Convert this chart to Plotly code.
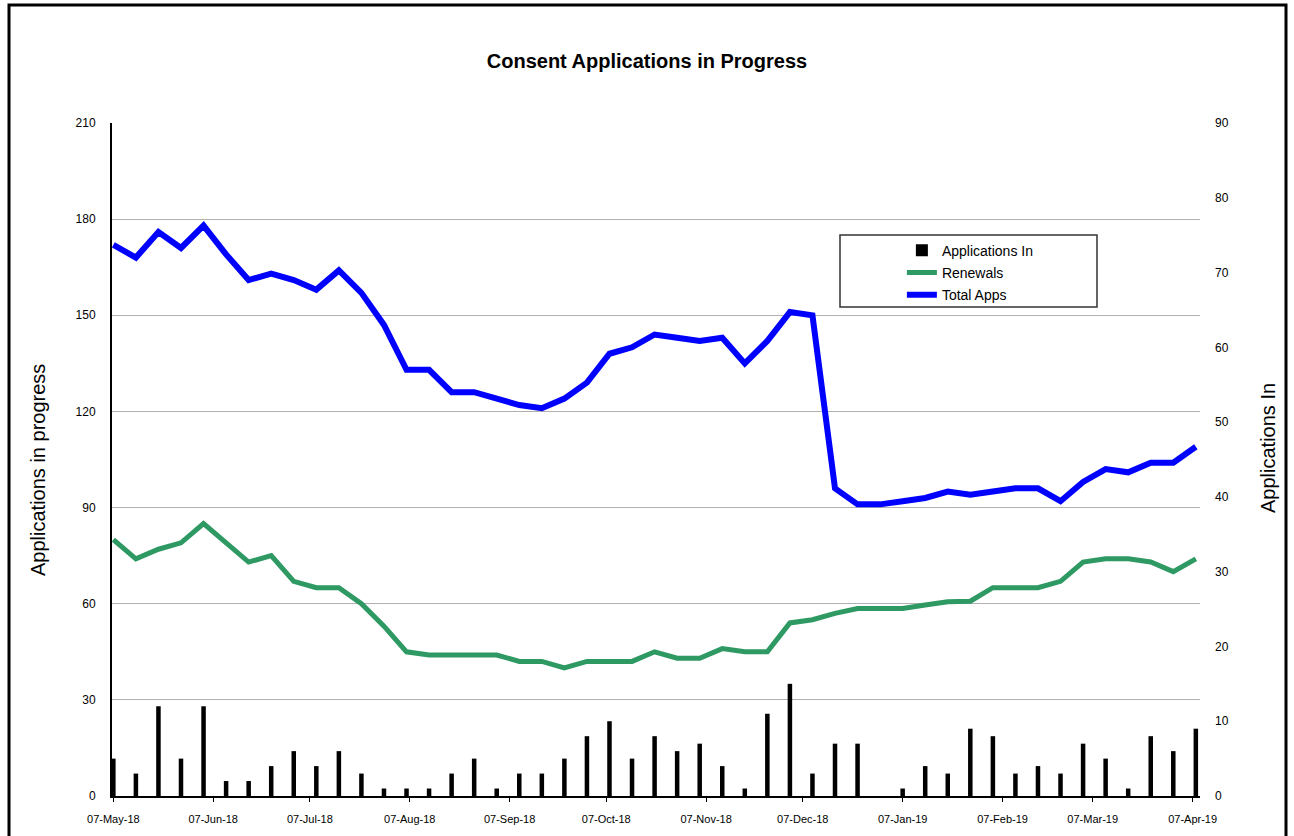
import pandas as pd
import plotly.graph_objects as go

# ---- data ----
week_start = "2018-05-07"
n_weeks = 49
weeks = pd.date_range(week_start, periods=n_weeks, freq="7D")

applications_in = [5, 3, 12, 5, 12, 2, 2, 4, 6, 4, 6, 3, 1, 1, 1, 3, 5, 1, 3, 3, 5, 8, 10, 5,
                   8, 6, 7, 4, 1, 11, 15, 3, 7, 7, 0, 1, 4, 3, 9, 8, 3, 4, 3, 7, 5, 1, 8, 6, 9]
renewals = [80, 74, 77, 79, 85, 79, 73, 75, 67, 65, 65, 60, 53, 45, 44, 44, 44, 44, 42, 42, 40, 42, 42, 42,
            45, 43, 43, 46, 45, 45, 54, 55, 57, 58.5, 58.5, 58.5, 59.6, 60.6, 60.8, 65, 65, 65, 67, 73, 74, 74, 73, 70, 74]
total_apps = [172, 168, 176, 171, 178, 169, 161, 163, 161, 158, 164, 157, 147, 133, 133, 126, 126, 124, 122, 121, 124, 129, 138, 140,
              144, 143, 142, 143, 135, 142, 151, 150, 96, 91, 91, 92, 93, 95, 94, 95, 96, 96, 92, 98, 102, 101, 104, 104, 109]
tick_dates = ["2018-05-07", "2018-06-07", "2018-07-07", "2018-08-07", "2018-09-07", "2018-10-07",
              "2018-11-07", "2018-12-07", "2019-01-07", "2019-02-07", "2019-03-07", "2019-04-07"]
tick_labels = ["07-May-18", "07-Jun-18", "07-Jul-18", "07-Aug-18", "07-Sep-18", "07-Oct-18",
               "07-Nov-18", "07-Dec-18", "07-Jan-19", "07-Feb-19", "07-Mar-19", "07-Apr-19"]

FONT = "Liberation Sans, Arial, sans-serif"

fig = go.Figure()
fig.add_trace(go.Bar(x=weeks, y=applications_in, name="Applications In", yaxis="y2",
                     marker=dict(color="black", line=dict(width=0)),
                     width=1.4 * 86400000, legendgroup="a"))
fig.add_trace(go.Scatter(x=weeks, y=renewals, name="Renewals", mode="lines",
                         line=dict(color="#2e9963", width=5), legendgroup="b"))
fig.add_trace(go.Scatter(x=weeks, y=total_apps, name="Total Apps", mode="lines",
                         line=dict(color="#0000ff", width=6), legendgroup="c"))

fig.update_layout(
    width=1294, height=836,
    margin=dict(l=112, r=94, t=123, b=40),
    paper_bgcolor="white", plot_bgcolor="white",
    font=dict(family=FONT, color="black", size=11),
    title=dict(text="Consent Applications in Progress", x=0.5, xanchor="center",
               y=1 - 61 / 836, yanchor="middle", yref="container",
               font=dict(family=FONT, size=20, color="black", weight="bold")),
    barmode="overlay",
    showlegend=True,
    legend=dict(x=0.726, y=0.834, xanchor="left", yanchor="top",
                bgcolor="rgba(0,0,0,0)", borderwidth=0, tracegroupgap=1,
                font=dict(family=FONT, size=14, color="black")),
    xaxis=dict(type="date", range=["2018-05-06 14:00", "2019-04-09 07:00"],
               tickvals=tick_dates, ticktext=tick_labels,
               showline=True, linecolor="black", linewidth=2,
               ticks="outside", ticklen=4, tickcolor="black",
               showgrid=False, zeroline=False, ticklabelstandoff=8,
               tickfont=dict(size=11, color="black")),
    yaxis=dict(range=[0, 210], dtick=30, showline=True, linecolor="black", linewidth=2,
               showgrid=True, gridcolor="#b0b0b0", gridwidth=1, zeroline=False,
               ticks="", ticklabelstandoff=12, tickfont=dict(size=12, color="black")),
    yaxis2=dict(range=[0, 90], dtick=10, overlaying="y", side="right",
                showgrid=False, zeroline=False, showline=False, ticks="",
                ticklabelstandoff=14, tickfont=dict(size=12, color="black")),
    shapes=[
        dict(type="rect", xref="paper", yref="paper",
             x0=(9 - 112) / 1088, x1=(1286 - 112) / 1088,
             y0=-0.1, y1=(796 - 5) / 673,
             line=dict(color="black", width=3), layer="below"),
        dict(type="rect", xref="paper", yref="paper",
             x0=(840 - 112) / 1088, x1=(1097 - 112) / 1088,
             y0=(796 - 307) / 673, y1=(796 - 235) / 673,
             line=dict(color="#333333", width=1.5), fillcolor="white", layer="below"),
    ],
    annotations=[
        dict(text="Applications in progress", textangle=-90, xref="paper", yref="paper",
             x=(38 - 112) / 1088, y=(796 - 470) / 673, showarrow=False,
             xanchor="center", yanchor="middle", font=dict(family=FONT, size=20, color="black")),
        dict(text="Applications In", textangle=-90, xref="paper", yref="paper",
             x=(1268 - 112) / 1088, y=(796 - 448) / 673, showarrow=False,
             xanchor="center", yanchor="middle", font=dict(family=FONT, size=20, color="black")),
    ],
)

fig.write_html("out.html", config={"displayModeBar": False},
               post_script="document.body.style.margin='0';document.body.style.overflow='hidden';")
